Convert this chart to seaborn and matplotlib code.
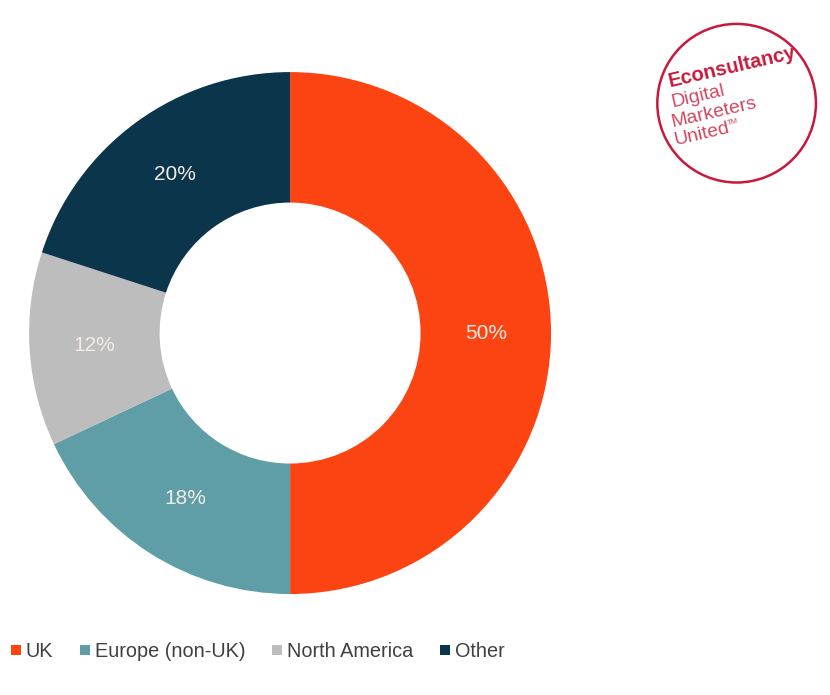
import matplotlib
matplotlib.use("Agg")
import matplotlib.pyplot as plt
from matplotlib.patches import Circle
import numpy as np
import seaborn as sns

sns.set_theme(style="white")
plt.rcParams['font.family'] = ['Liberation Sans', 'DejaVu Sans']

regions = ["UK", "Europe (non-UK)", "North America", "Other"]
shares = [50, 18, 12, 20]
colors = sns.color_palette(["#FC4412", "#5F9EA6", "#BDBDBD", "#0A354A"])

W, H = 830, 695
fig = plt.figure(figsize=(W / 100, H / 100), dpi=100)
ax = fig.add_axes([0.035, 0.1453, 0.629, 0.751])

wedges, texts = ax.pie(
    shares, colors=colors, startangle=90, counterclock=False,
    wedgeprops=dict(width=0.5, linewidth=0),
)
for w, v in zip(wedges, shares):
    ang = np.deg2rad((w.theta1 + w.theta2) / 2)
    ax.text(0.75 * np.cos(ang), 0.75 * np.sin(ang), f"{v}%",
            ha="center", va="center", fontsize=15, color="#F4ECE6")
ax.set_xlim(-1, 1)
ax.set_ylim(-1, 1)
ax.set_aspect("equal")
ax.axis("off")

# legend along the bottom
handles = [plt.Line2D([], [], marker="s", linestyle="", markersize=7.5,
                      markerfacecolor=c, markeredgewidth=0) for c in colors]
fig.legend(handles, regions, loc="center left", bbox_to_anchor=(0.012, 0.062),
           ncol=4, frameon=False, fontsize=14.3, handlelength=0.6,
           handletextpad=0.2, columnspacing=1.3, borderpad=0,
           borderaxespad=0, labelcolor="#404040")

# brand stamp in the top-right corner
lax = fig.add_axes([0.79, 0.735, 0.195, 0.233])
lax.set_xlim(-1, 1)
lax.set_ylim(-1, 1)
lax.set_aspect("equal")
lax.axis("off")
crimson = "#C8193C"
pink = "#D04862"
lax.add_patch(Circle((0, 0), 0.98, fill=False, edgecolor=crimson, linewidth=1.8))

stamp = [("Econsultancy", 670, 87, "bold", crimson, 14.5),
         ("Digital", 672, 107, "normal", pink, 14),
         ("Marketers", 672, 127, "normal", pink, 14),
         ("United", 675, 145, "normal", pink, 14),
         ("TM", 728, 125, "normal", pink, 5.5)]
for txt, px, py, wt, col, fs in stamp:
    fig.text(px / W, 1 - py / H, txt, rotation=13, rotation_mode="anchor",
             ha="left", va="baseline", fontsize=fs, fontweight=wt, color=col)

fig.savefig("out.png", dpi=100, facecolor="white")
